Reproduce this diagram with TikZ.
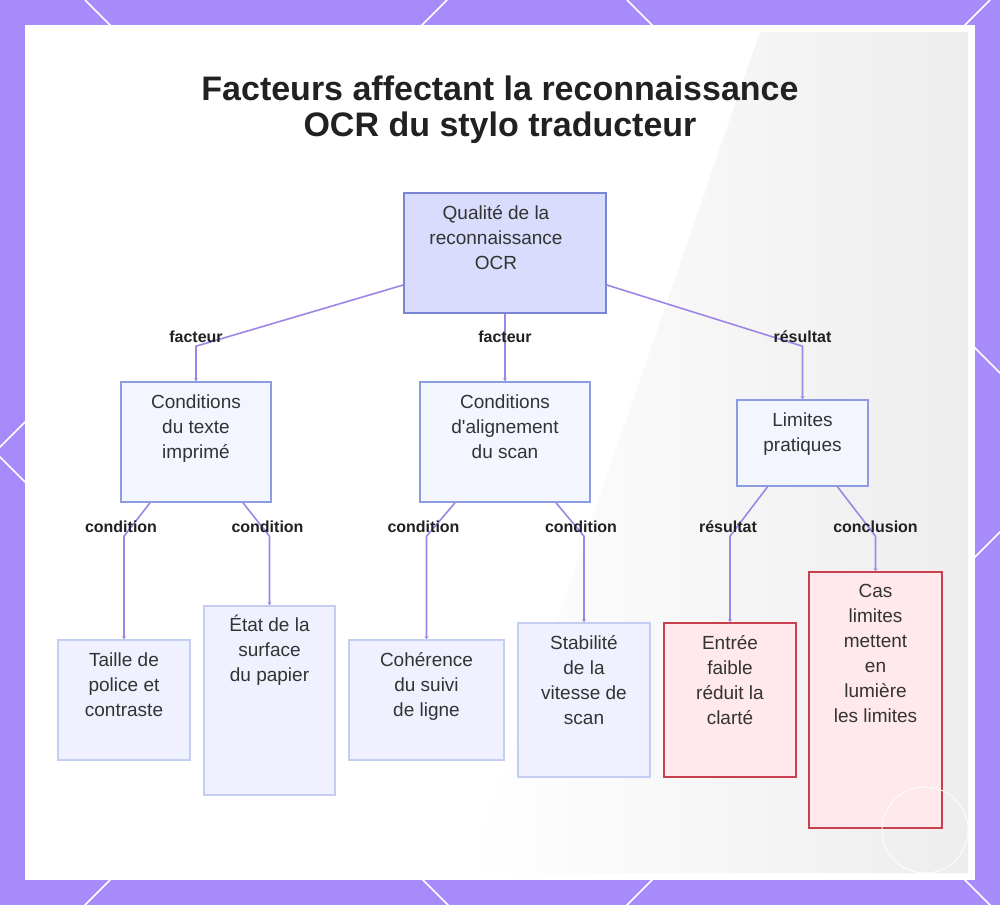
\documentclass[tikz,border=0pt]{standalone}
\usepackage{fontspec}
\setmainfont{Liberation Sans}
\usetikzlibrary{arrows.meta}

\definecolor{bgpurple}{HTML}{A78BFA}
\definecolor{edgecol}{HTML}{9F85E6}
\definecolor{rootfill}{HTML}{D9DCFC}
\definecolor{rootdraw}{HTML}{7A85D6}
\definecolor{midfill}{HTML}{F3F5FF}
\definecolor{middraw}{HTML}{8C9CE3}
\definecolor{leaffill}{HTML}{EFF2FE}
\definecolor{leafdraw}{HTML}{C3CEF2}
\definecolor{redfill}{HTML}{FFE9EC}
\definecolor{reddraw}{HTML}{C84050}
\definecolor{txtcol}{HTML}{333333}

\tikzset{
  box/.style={draw, line width=1.6pt, inner sep=0pt},
  rootbox/.style={box, fill=rootfill, draw=rootdraw},
  midbox/.style={box, fill=midfill, draw=middraw},
  leafbox/.style={box, fill=leaffill, draw=leafdraw},
  redbox/.style={box, fill=redfill, draw=reddraw},
  boxtxt/.style={anchor=north, align=center, inner sep=0pt, text=txtcol,
    font=\fontsize{19}{25}\selectfont},
  edgelbl/.style={font=\fontsize{16}{18}\selectfont\bfseries, text=black!87, inner sep=0pt},
  edge/.style={draw=edgecol, line width=1.6pt, -{Stealth[length=3pt,width=4pt]}},
  lattice/.style={draw=white, line width=1.5pt}
}

\begin{document}
\begin{tikzpicture}[x=1pt,y=-1pt]
  \useasboundingbox (0,0) rectangle (1000,905);

  % frame and panel
  \begin{scope}
    \clip (0,0) rectangle (1000,905);
    \fill[bgpurple] (0,0) rectangle (1000,905);
    \foreach \c in {-457,85,627} {
      \draw[lattice] (\c,0) -- ++(1000,1000);
    }
    \foreach \c in {447,990,1532} {
      \draw[lattice] (\c,0) -- ++(-1000,1000);
    }
  \end{scope}
  \fill[white] (25,25) rectangle (975,880);
  \shade[left color=white, right color=black!7] (760,32) -- (968,32) -- (968,873) -- (470,873) -- cycle;

  % title
  \node[font=\fontsize{34}{36}\selectfont\bfseries, align=center, text=black!87] (title) at (500,110)
    {Facteurs affectant la reconnaissance\\OCR du stylo traducteur};

  % boxes
  \node[rootbox, minimum width=202, minimum height=120] (root) at (505,253) {};
  \node[boxtxt] (roott) at ([xshift=-9,yshift=-13]root.north) {Qualité de la\\reconnaissance\\OCR};

  \node[midbox, minimum width=150, minimum height=120] (cond) at (196,442) {};
  \node[boxtxt] (condt) at ([yshift=-13]cond.north) {Conditions\\du texte\\imprimé};
  \node[midbox, minimum width=170, minimum height=120] (align) at (505,442) {};
  \node[boxtxt] (alignt) at ([yshift=-13]align.north) {Conditions\\d\textquotesingle alignement\\du scan};
  \node[midbox, minimum width=131, minimum height=86] (lim) at (802.5,443) {};
  \node[boxtxt] (limt) at ([yshift=-13]lim.north) {Limites\\pratiques};

  \node[leafbox, minimum width=132, minimum height=120] (taille) at (124,700) {};
  \node[boxtxt] (taillet) at ([yshift=-13]taille.north) {Taille de\\police et\\contraste};
  \node[leafbox, minimum width=131, minimum height=189] (etat) at (269.5,700.5) {};
  \node[boxtxt] (etatt) at ([yshift=-10]etat.north) {État de la\\surface\\du papier};
  \node[leafbox, minimum width=155, minimum height=120] (coh) at (426.5,700) {};
  \node[boxtxt] (coht) at ([yshift=-13]coh.north) {Cohérence\\du suivi\\de ligne};
  \node[leafbox, minimum width=132, minimum height=154] (stab) at (584,700) {};
  \node[boxtxt] (stabt) at ([yshift=-13]stab.north) {Stabilité\\de la\\vitesse de\\scan};
  \node[redbox, minimum width=132, minimum height=154] (entree) at (730,700) {};
  \node[boxtxt] (entreet) at ([yshift=-13]entree.north) {Entrée\\faible\\réduit la\\clarté};
  \node[redbox, minimum width=133, minimum height=256] (cas) at (875.5,700) {};
  \node[boxtxt] (cast) at ([yshift=-13]cas.north) {Cas\\limites\\mettent\\en\\lumière\\les limites};

  % connectors
  \draw[edge] ([yshift=-32]root.west) -- ([yshift=35]cond.north) -- (cond.north);
  \draw[edge] (root.south) -- (align.north);
  \draw[edge] ([yshift=-32]root.east) -- ([yshift=53]lim.north) -- (lim.north);
  \draw[edge] ([xshift=-46]cond.south) -- ([yshift=103]taille.north) -- (taille.north);
  \draw[edge] ([xshift=47]cond.south) -- ([yshift=69]etat.north) -- (etat.north);
  \draw[edge] ([xshift=-50]align.south) -- ([yshift=103]coh.north) -- (coh.north);
  \draw[edge] ([xshift=51]align.south) -- ([yshift=86]stab.north) -- (stab.north);
  \draw[edge] ([xshift=-35]lim.south) -- ([yshift=86]entree.north) -- (entree.north);
  \draw[edge] ([xshift=35]lim.south) -- ([yshift=35]cas.north) -- (cas.north);

  % connector labels
  \node[edgelbl] (l1) at ([yshift=44]cond.north) {facteur};
  \node[edgelbl] (l2) at ([yshift=44]align.north) {facteur};
  \node[edgelbl] (l3) at ([yshift=62]lim.north) {résultat};
  \node[edgelbl] (l4) at ([xshift=-3,yshift=112]taille.north) {condition};
  \node[edgelbl] (l5) at ([xshift=-2,yshift=78]etat.north) {condition};
  \node[edgelbl] (l6) at ([xshift=-3,yshift=112]coh.north) {condition};
  \node[edgelbl] (l7) at ([xshift=-3,yshift=95]stab.north) {condition};
  \node[edgelbl] (l8) at ([xshift=-2,yshift=95]entree.north) {résultat};
  \node[edgelbl] (l9) at ([yshift=44]cas.north) {conclusion};

  % faint mark
  \draw[white, line width=0.8pt] (925,830) circle (43);
\end{tikzpicture}
\end{document}
